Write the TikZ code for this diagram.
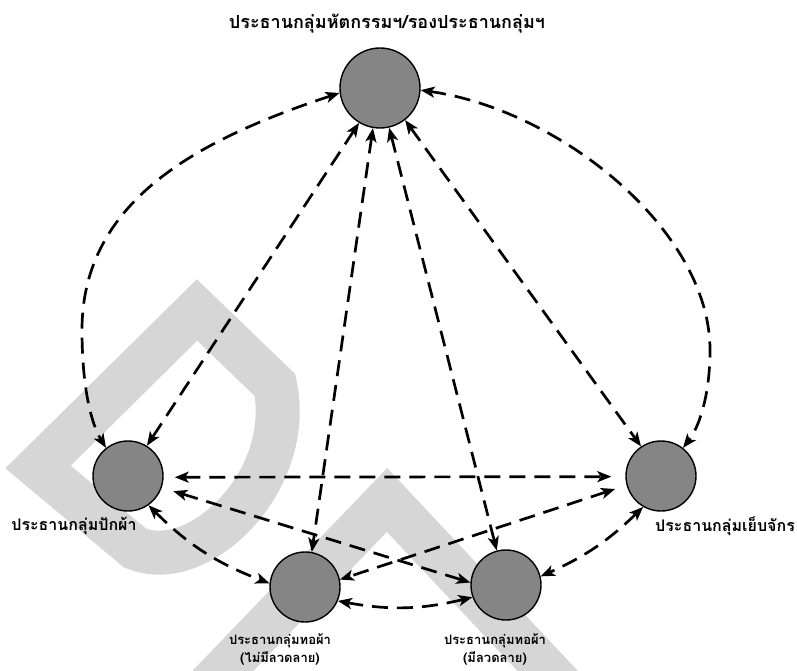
\documentclass[tikz,border=0pt]{standalone}
\usepackage{fontspec}
\newfontfamily\thaifont[Script=Thai]{Loma}
\usetikzlibrary{arrows.meta}
\begin{document}
\begin{tikzpicture}[x=1pt,y=-1pt,
  pers/.style={circle, draw=black, line width=1.4pt, fill=black!48, minimum size=70pt, inner sep=0pt},
  tipk/.tip={Stealth[length=14pt,width=11pt,inset=3.5pt]},
  link/.style={line width=2.7pt, dash pattern=on 16pt off 9pt, tipk-tipk},
  lbl/.style={text=black, align=center, inner sep=0pt},
  bigt/.style={lbl, font=\thaifont\bfseries\fontsize{18}{21}\selectfont},
  midt/.style={lbl, font=\thaifont\bfseries\fontsize{16}{19}\selectfont},
  rgtt/.style={lbl, font=\thaifont\bfseries\fontsize{16}{19}\selectfont},
  smlt/.style={lbl, font=\thaifont\bfseries\fontsize{13}{18}\selectfont},
  wm/.style={draw=black!16, line width=44pt, line join=miter}
]
\useasboundingbox (0,0) rectangle (797,671);
% watermark
\draw[wm] (197,310) -- (38,467) -- (135,548) .. controls (200,575) and (295,480) .. (275,385) -- cycle;
\draw[wm] (195,700) -- (387,500) -- (575,700);

\node[pers, minimum size=80pt] (top) at (380,88) {};
\node[pers] (left) at (128,476) {};
\node[pers] (right) at (661,476) {};
\node[pers] (bl) at (305,587) {};
\node[pers] (br) at (506,585) {};

\node[bigt] (ltop) at (387,24) {ประธานกลุ่มหัตกรรมฯ/รองประธานกลุ่มฯ};
\node[midt] (lleft) at (74,526) {ประธานกลุ่มปักผ้า};
\node[rgtt] (lright) at (725,526) {ประธานกลุ่มเย็บจักร};
\node[smlt] (lbl) at (280,649) {ประธานกลุ่มทอผ้า\\(ไม่มีลวดลาย)};
\node[smlt] (lbr) at (495,649) {ประธานกลุ่มทอผ้า\\(มีลวดลาย)};

\draw[link] (top.187) .. controls (200,139) and (82,200) .. (82,330) .. controls (82,390) and (92,425) .. (left.128);
\draw[link] (top.357) .. controls (560,110) and (710,230) .. (710,350) .. controls (710,400) and (697,430) .. (right.52);
\draw[link] (top.239) -- (left.58);
\draw[link] (top.260) -- (bl.79);
\draw[link] (top.283) -- (br.105);
\draw[link] (top.308) -- (right.124);
\draw[link, shorten <=11pt, shorten >=14pt] (left.358) -- (right.181);
\draw[link, shorten <=12pt] (left.341) -- (br.176);
\draw[link, shorten <=12pt] (right.195) -- (bl.12);
\draw[link] (left.305) to[bend right=12] (bl.174);
\draw[link] (right.240) to[bend left=10] (br.14);
\draw[link] (bl.337) to[bend right=12] (br.200);
\end{tikzpicture}
\end{document}
